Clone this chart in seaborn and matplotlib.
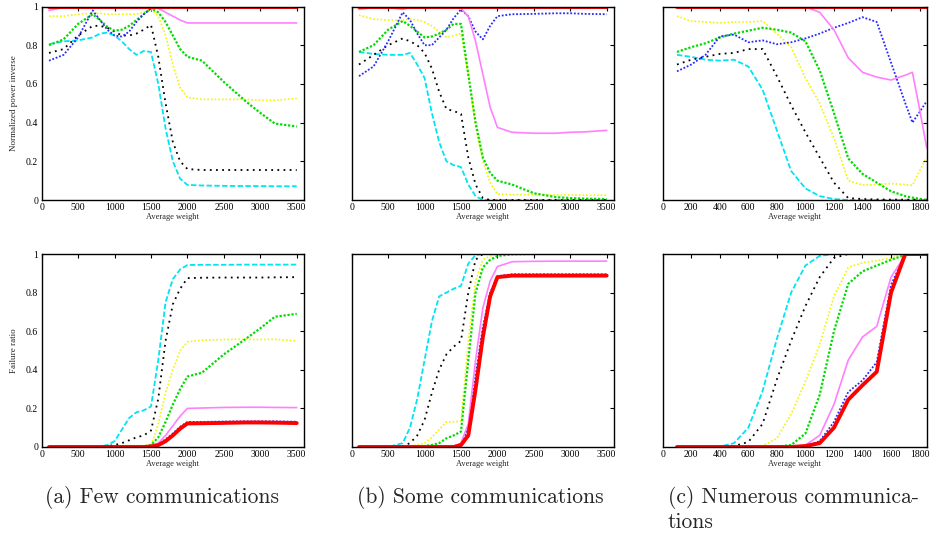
import numpy as np
import pandas as pd
import matplotlib
matplotlib.use("Agg")
import matplotlib.pyplot as plt
import seaborn as sns

# ---------------- data ----------------
X_AB = [100, 300, 500, 700, 800, 900, 1000, 1100, 1200, 1300, 1400, 1500,
        1600, 1700, 1800, 1900, 2000, 2200, 2500, 2800, 3000, 3200, 3500]
X_C = [100, 200, 300, 400, 500, 600, 700, 800, 900, 1000, 1100, 1200,
       1300, 1400, 1500, 1600, 1700, 1750, 1800, 1850]

SERIES = ["cyan", "black", "yellow", "green", "blue", "pink", "red"]

# --- panel (a), normalized power inverse
a_pow_red = [1.0] * 23
a_pow_pink = [0.98, 0.995, 0.997, 0.997, 0.997, 0.997, 0.997, 0.997, 0.997, 0.997, 0.997, 0.997,
              0.99, 0.97, 0.95, 0.93, 0.915, 0.915, 0.915, 0.915, 0.915, 0.915, 0.915]
a_pow_blue = [0.72, 0.75, 0.84, 0.98, 0.93, 0.88, 0.85, 0.845, 0.87, 0.92, 0.96, 0.99,
              0.995, 0.995, 0.995, 0.995, 0.995, 0.995, 0.995, 0.995, 0.995, 0.995, 0.995]
a_pow_green = [0.80, 0.83, 0.91, 0.96, 0.93, 0.895, 0.875, 0.88, 0.90, 0.93, 0.96, 0.99,
               0.97, 0.92, 0.85, 0.78, 0.74, 0.72, 0.61, 0.51, 0.45, 0.395, 0.38]
a_pow_yellow = [0.95, 0.95, 0.96, 0.965, 0.965, 0.96, 0.96, 0.96, 0.96, 0.96, 0.97, 0.985,
                0.95, 0.85, 0.70, 0.58, 0.53, 0.52, 0.52, 0.52, 0.515, 0.515, 0.525]
a_pow_black = [0.76, 0.78, 0.85, 0.90, 0.90, 0.89, 0.87, 0.85, 0.85, 0.86, 0.88, 0.905,
               0.74, 0.50, 0.30, 0.20, 0.16, 0.155, 0.155, 0.155, 0.155, 0.155, 0.155]
a_pow_cyan = [0.805, 0.82, 0.825, 0.84, 0.86, 0.865, 0.85, 0.82, 0.78, 0.75, 0.77, 0.765,
              0.60, 0.37, 0.20, 0.11, 0.078, 0.075, 0.073, 0.072, 0.072, 0.071, 0.071]

# --- panel (b), normalized power inverse
b_pow_red = [1.0] * 23
b_pow_pink = [0.985, 0.995, 0.995, 0.985, 0.995, 0.995, 0.995, 0.995, 0.995, 0.995, 0.995, 0.99,
              0.95, 0.82, 0.65, 0.48, 0.375, 0.35, 0.345, 0.345, 0.35, 0.352, 0.36]
b_pow_blue = [0.64, 0.69, 0.82, 0.97, 0.93, 0.86, 0.80, 0.80, 0.84, 0.88, 0.94, 0.985,
              0.95, 0.87, 0.83, 0.90, 0.95, 0.96, 0.962, 0.965, 0.965, 0.962, 0.96]
b_pow_green = [0.765, 0.80, 0.88, 0.925, 0.90, 0.87, 0.84, 0.845, 0.86, 0.88, 0.91, 0.91,
               0.65, 0.40, 0.22, 0.14, 0.10, 0.08, 0.035, 0.015, 0.01, 0.007, 0.005]
b_pow_yellow = [0.955, 0.935, 0.93, 0.93, 0.935, 0.93, 0.92, 0.90, 0.87, 0.84, 0.85, 0.86,
                0.65, 0.38, 0.20, 0.09, 0.03, 0.028, 0.027, 0.026, 0.026, 0.025, 0.025]
b_pow_black = [0.70, 0.75, 0.80, 0.835, 0.82, 0.80, 0.76, 0.68, 0.56, 0.47, 0.46, 0.445,
               0.22, 0.08, 0.01, 0.0, 0.0, 0.0, 0.0, 0.0, 0.0, 0.0, 0.0]
b_pow_cyan = [0.765, 0.755, 0.75, 0.75, 0.76, 0.70, 0.63, 0.45, 0.30, 0.20, 0.18, 0.17,
              0.08, 0.02, 0.0, 0.0, 0.0, 0.0, 0.0, 0.0, 0.0, 0.0, 0.0]

# --- panel (c), normalized power inverse
c_pow_red = [1.0] * 20
c_pow_pink = [0.998, 0.998, 0.998, 0.998, 0.998, 0.998, 0.998, 0.998, 0.998, 0.998,
              0.97, 0.88, 0.735, 0.66, 0.635, 0.62, 0.645, 0.66, 0.47, 0.27]
c_pow_blue = [0.665, 0.70, 0.75, 0.845, 0.855, 0.815, 0.825, 0.805, 0.815, 0.835,
              0.86, 0.89, 0.915, 0.945, 0.92, 0.71, 0.50, 0.40, 0.455, 0.51]
c_pow_green = [0.765, 0.79, 0.81, 0.84, 0.86, 0.875, 0.89, 0.88, 0.865, 0.82,
               0.67, 0.45, 0.215, 0.135, 0.09, 0.045, 0.02, 0.012, 0.006, 0.0]
c_pow_yellow = [0.95, 0.925, 0.92, 0.915, 0.92, 0.92, 0.925, 0.86, 0.79, 0.63,
                0.50, 0.32, 0.10, 0.078, 0.08, 0.085, 0.08, 0.075, 0.15, 0.22]
c_pow_black = [0.70, 0.725, 0.74, 0.755, 0.76, 0.78, 0.78, 0.64, 0.49, 0.35,
               0.22, 0.09, 0.01, 0.005, 0.003, 0.002, 0.002, 0.002, 0.002, 0.002]
c_pow_cyan = [0.75, 0.74, 0.725, 0.72, 0.725, 0.69, 0.57, 0.36, 0.15, 0.06,
              0.02, 0.005, 0.0, 0.0, 0.0, 0.0, 0.0, 0.0, 0.0, 0.0]

# --- panel (a), failure ratio
a_fail_red = [0, 0, 0, 0, 0, 0, 0, 0, 0, 0, 0, 0.003,
              0.01, 0.03, 0.06, 0.095, 0.122, 0.123, 0.125, 0.127, 0.127, 0.126, 0.124]
a_fail_blue = [0, 0, 0, 0, 0, 0, 0, 0, 0, 0, 0, 0.004,
               0.015, 0.04, 0.07, 0.105, 0.13, 0.13, 0.132, 0.133, 0.133, 0.133, 0.131]
a_fail_pink = [0, 0, 0, 0, 0, 0, 0, 0, 0, 0, 0, 0.005,
               0.02, 0.06, 0.11, 0.16, 0.20, 0.202, 0.205, 0.206, 0.206, 0.205, 0.204]
a_fail_green = [0, 0, 0, 0, 0, 0, 0.002, 0.002, 0.002, 0.002, 0.003, 0.01,
                0.05, 0.13, 0.22, 0.30, 0.365, 0.385, 0.48, 0.56, 0.615, 0.675, 0.69]
a_fail_yellow = [0, 0, 0, 0, 0, 0, 0.005, 0.007, 0.007, 0.007, 0.007, 0.007,
                 0.12, 0.28, 0.40, 0.50, 0.545, 0.553, 0.557, 0.558, 0.557, 0.558, 0.55]
a_fail_black = [0, 0, 0, 0, 0, 0.005, 0.01, 0.02, 0.035, 0.05, 0.06, 0.085,
                0.25, 0.55, 0.74, 0.82, 0.875, 0.877, 0.878, 0.878, 0.878, 0.879, 0.88]
a_fail_cyan = [0, 0, 0, 0, 0.003, 0.01, 0.03, 0.09, 0.15, 0.18, 0.19, 0.21,
               0.45, 0.75, 0.87, 0.92, 0.943, 0.944, 0.944, 0.945, 0.945, 0.945, 0.945]

# --- panel (b), failure ratio
b_fail_red = [0, 0, 0, 0, 0, 0, 0, 0, 0, 0, 0, 0.01,
              0.06, 0.30, 0.57, 0.78, 0.88, 0.888, 0.888, 0.888, 0.888, 0.888, 0.888]
b_fail_blue = [0, 0, 0, 0, 0, 0, 0, 0, 0, 0, 0.003, 0.012,
               0.10, 0.37, 0.62, 0.80, 0.885, 0.895, 0.895, 0.895, 0.895, 0.895, 0.895]
b_fail_pink = [0, 0, 0, 0, 0, 0, 0, 0, 0, 0, 0.005, 0.02,
               0.12, 0.45, 0.72, 0.86, 0.935, 0.96, 0.962, 0.963, 0.963, 0.963, 0.963]
b_fail_green = [0, 0, 0, 0, 0, 0.002, 0.005, 0.01, 0.02, 0.045, 0.06, 0.08,
                0.45, 0.80, 0.93, 0.97, 0.99, 0.998, 1.0, 1.0, 1.0, 1.0, 1.0]
b_fail_yellow = [0, 0, 0, 0, 0.005, 0.01, 0.02, 0.05, 0.09, 0.13, 0.13, 0.135,
                 0.55, 0.86, 0.97, 0.99, 1.0, 1.0, 1.0, 1.0, 1.0, 1.0, 1.0]
b_fail_black = [0, 0, 0, 0.005, 0.02, 0.06, 0.14, 0.28, 0.40, 0.48, 0.52, 0.55,
                0.80, 0.97, 1.0, 1.0, 1.0, 1.0, 1.0, 1.0, 1.0, 1.0, 1.0]
b_fail_cyan = [0, 0, 0, 0.02, 0.10, 0.25, 0.45, 0.65, 0.78, 0.80, 0.82, 0.835,
               0.95, 0.995, 1.0, 1.0, 1.0, 1.0, 1.0, 1.0, 1.0, 1.0, 1.0]

# --- panel (c), failure ratio
c_fail_red = [0, 0, 0, 0, 0, 0, 0, 0, 0, 0.005, 0.02, 0.10,
              0.245, 0.32, 0.39, 0.80, 1.0, 1.0, 1.0, 1.0]
c_fail_blue = [0, 0, 0, 0, 0, 0, 0, 0, 0, 0.006, 0.03, 0.13,
               0.285, 0.345, 0.44, 0.84, 1.0, 1.0, 1.0, 1.0]
c_fail_pink = [0, 0, 0, 0, 0, 0, 0, 0, 0.002, 0.01, 0.06, 0.22,
               0.45, 0.57, 0.625, 0.88, 0.995, 1.0, 1.0, 1.0]
c_fail_green = [0, 0, 0, 0, 0, 0, 0, 0.002, 0.01, 0.07, 0.27, 0.60,
                0.845, 0.91, 0.94, 0.97, 0.995, 1.0, 1.0, 1.0]
c_fail_yellow = [0, 0, 0, 0, 0, 0, 0.005, 0.045, 0.17, 0.34, 0.53, 0.78,
                 0.93, 0.955, 0.965, 0.98, 1.0, 1.0, 1.0, 1.0]
c_fail_black = [0, 0, 0, 0, 0.005, 0.026, 0.12, 0.35, 0.55, 0.73, 0.88, 0.98,
                1.0, 1.0, 1.0, 1.0, 1.0, 1.0, 1.0, 1.0]
c_fail_cyan = [0, 0, 0, 0.002, 0.02, 0.10, 0.29, 0.56, 0.80, 0.94, 0.99, 1.0,
               1.0, 1.0, 1.0, 1.0, 1.0, 1.0, 1.0, 1.0]

Y_TICKS = [0, 0.2, 0.4, 0.6, 0.8, 1.0]
Y_TICK_LABELS = ["0", "0.2", "0.4", "0.6", "0.8", "1"]
X_TICKS_AB = [0, 500, 1000, 1500, 2000, 2500, 3000, 3500]
X_TICKS_C = [0, 200, 400, 600, 800, 1000, 1200, 1400, 1600, 1800]
CAPTIONS = ["(a) Few communications", "(b) Some communications",
            "(c) Numerous communica-\ntions"]
Y_LABELS = ["Normalized power inverse", "Failure ratio"]
X_LABEL = "Average weight"

# ---------------- style ----------------
STYLE = {
    "cyan":   dict(color="#00e4f4", linestyle=(0, (3.0, 1.3)), linewidth=1.3),
    "black":  dict(color="#000000", linestyle=(0, (1.0, 2.4)), linewidth=1.3),
    "yellow": dict(color="#f4f400", linestyle=(0, (1.0, 1.2)), linewidth=1.2),
    "green":  dict(color="#00dc00", linestyle=(0, (1.0, 0.8)), linewidth=1.6),
    "blue":   dict(color="#2828ff", linestyle=(0, (1.0, 1.0)), linewidth=1.3),
    "pink":   dict(color="#ff80ff", linestyle="-", linewidth=1.2),
    "red":    dict(color="#ff0000", linestyle="-", linewidth=2.8),
}

sns.set_style("white")
plt.rcParams["font.family"] = ["Liberation Serif", "DejaVu Serif"]

fig = plt.figure(figsize=(9.32, 5.35), dpi=100)
W, H = 932.0, 535.0

lefts = [41.7, 351.7, 662.7]
widths = [262.3, 262.3, 264.0]
rows = [(6.5, 200.0), (254.0, 447.0)]

panels = {
    (0, 0): (X_AB, dict(red=a_pow_red, pink=a_pow_pink, blue=a_pow_blue, green=a_pow_green,
                        yellow=a_pow_yellow, black=a_pow_black, cyan=a_pow_cyan)),
    (0, 1): (X_AB, dict(red=b_pow_red, pink=b_pow_pink, blue=b_pow_blue, green=b_pow_green,
                        yellow=b_pow_yellow, black=b_pow_black, cyan=b_pow_cyan)),
    (0, 2): (X_C, dict(red=c_pow_red, pink=c_pow_pink, blue=c_pow_blue, green=c_pow_green,
                       yellow=c_pow_yellow, black=c_pow_black, cyan=c_pow_cyan)),
    (1, 0): (X_AB, dict(red=a_fail_red, pink=a_fail_pink, blue=a_fail_blue, green=a_fail_green,
                        yellow=a_fail_yellow, black=a_fail_black, cyan=a_fail_cyan)),
    (1, 1): (X_AB, dict(red=b_fail_red, pink=b_fail_pink, blue=b_fail_blue, green=b_fail_green,
                        yellow=b_fail_yellow, black=b_fail_black, cyan=b_fail_cyan)),
    (1, 2): (X_C, dict(red=c_fail_red, pink=c_fail_pink, blue=c_fail_blue, green=c_fail_green,
                       yellow=c_fail_yellow, black=c_fail_black, cyan=c_fail_cyan)),
}

for (r, c), (xs, series) in panels.items():
    top, bot = rows[r]
    ax = fig.add_axes([lefts[c] / W, (H - bot) / H, widths[c] / W, (bot - top) / H])
    for name in SERIES:
        df = pd.DataFrame({"x": xs, "y": series[name]})
        sns.lineplot(data=df, x="x", y="y", ax=ax,
                     zorder=2 + 0.1 * SERIES.index(name), **STYLE[name])
    if c < 2:
        ax.set_xlim(0, 3600)
        ax.set_xticks(X_TICKS_AB)
        ax.set_xticklabels([str(t) for t in X_TICKS_AB])
    else:
        ax.set_xlim(0, 1850)
        ax.set_xticks(X_TICKS_C)
        ax.set_xticklabels([str(t) for t in X_TICKS_C])
    ax.set_ylim(0, 1)
    ax.set_yticks(Y_TICKS)
    if c == 0:
        ax.set_yticklabels(Y_TICK_LABELS)
        ax.set_ylabel(Y_LABELS[r], fontsize=6.5, labelpad=6)
    else:
        ax.set_yticklabels([])
        ax.set_ylabel("")
    ax.set_xlabel(X_LABEL, fontsize=6, labelpad=0.5)
    ax.tick_params(direction="in", top=True, right=True, length=3, width=0.8,
                   labelsize=7, pad=2.5, colors="black")
    for sp in ax.spines.values():
        sp.set_visible(True)
        sp.set_color("black")
        sp.set_linewidth(1.0)
        sp.set_zorder(5)
    ax.set_facecolor("white")

cap_x = [45, 357, 668]
for i, txt in enumerate(CAPTIONS):
    fig.text(cap_x[i] / W, 1 - 486 / H, txt, ha="left", va="top",
             fontsize=15.5, family="cmr10", linespacing=1.2)

fig.savefig("out.png", dpi=100)
